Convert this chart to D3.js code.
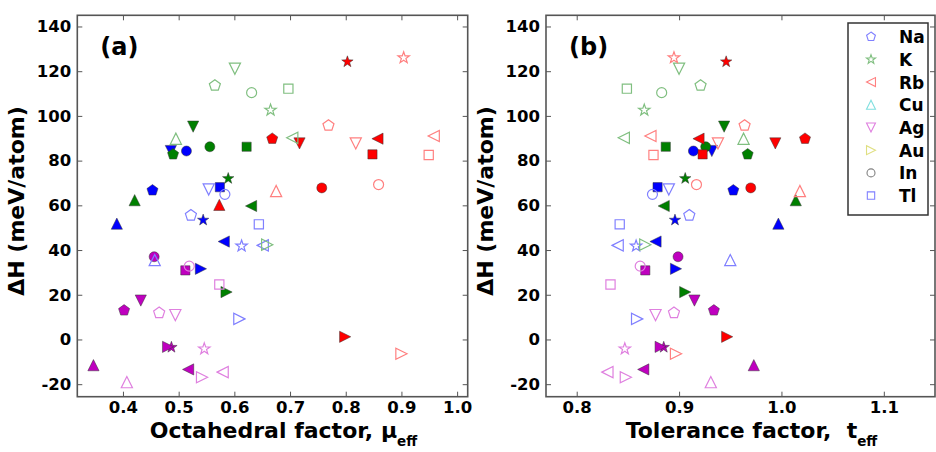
<!DOCTYPE html>
<html>
<head>
<meta charset="utf-8">
<script src="https://cdn.jsdelivr.net/npm/d3@7"></script>
<style>
body { margin: 0; background: #fff; }
text { font-family: "DejaVu Sans", sans-serif; font-weight: bold; fill: #000; }
</style>
</head>
<body>
<svg id="chart" width="936" height="452"></svg>
<script>
// A-site elements, in the order used by every array below
const ELEMENTS = ["Na", "K", "Rb", "Cu", "Ag", "Au", "In", "Tl"];

// formation enthalpy dH (meV/atom), octahedral factor mu, tolerance factor t
const dhBlueFilled = [66.7, 53.4, 43.8, 51.8, 84.3, 31.6, 84.3, 68.1];
const muBlueFilled = [0.453, 0.544, 0.581, 0.389, 0.486, 0.540, 0.514, 0.574];
const tBlueFilled  = [0.953, 0.896, 0.877, 0.997, 0.932, 0.897, 0.914, 0.879];

const dhBlueOpen = [55.5, 41.8, 42.1, 35.5, 67.1, 9.2, 64.9, 51.5];
const muBlueOpen = [0.522, 0.613, 0.651, 0.457, 0.554, 0.609, 0.583, 0.644];
const tBlueOpen  = [0.910, 0.858, 0.840, 0.950, 0.890, 0.859, 0.874, 0.842];

const dhGreenFilled = [82.8, 72.0, 59.7, 62.3, 95.2, 21.2, 86.2, 86.2];
const muGreenFilled = [0.490, 0.589, 0.630, 0.421, 0.526, 0.586, 0.556, 0.622];
const tGreenFilled  = [0.967, 0.906, 0.885, 1.014, 0.944, 0.906, 0.926, 0.887];

const dhGreenOpen = [113.6, 102.6, 90.2, 89.8, 121.1, 42.4, 110.4, 112.2];
const muGreenOpen = [0.565, 0.665, 0.704, 0.495, 0.601, 0.659, 0.631, 0.697];
const tGreenOpen  = [0.921, 0.866, 0.846, 0.963, 0.900, 0.867, 0.883, 0.849];

const dhRedFilled = [89.8, 124.2, 89.8, 60.2, 87.7, 1.2, 67.8, 82.8];
const muRedFilled = [0.668, 0.803, 0.857, 0.573, 0.717, 0.799, 0.757, 0.848];
const tRedFilled  = [1.023, 0.946, 0.919, 1.180, 0.994, 0.947, 0.970, 0.923];

const dhRedOpen = [95.7, 126.0, 91.0, 66.4, 87.7, -6.4, 69.3, 82.5];
const muRedOpen = [0.769, 0.904, 0.958, 0.675, 0.818, 0.900, 0.859, 0.949];
const tRedOpen  = [0.964, 0.895, 0.872, 1.018, 0.938, 0.897, 0.917, 0.875];

const dhMagentaFilled = [13.0, -3.5, -13.4, -11.5, 17.4, -3.3, 37.0, 30.9];
const muMagentaFilled = [0.402, 0.487, 0.517, 0.347, 0.432, 0.481, 0.456, 0.512];
const tMagentaFilled  = [0.934, 0.885, 0.865, 0.973, 0.915, 0.882, 0.899, 0.867];

const dhMagentaOpen = [11.9, -4.2, -14.6, -19.1, 10.9, -16.9, 32.8, 24.6];
const muMagentaOpen = [0.465, 0.546, 0.579, 0.407, 0.494, 0.542, 0.519, 0.573];
const tMagentaOpen  = [0.895, 0.847, 0.830, 0.931, 0.877, 0.848, 0.862, 0.833];

const Y_TICKS = [-20, 0, 20, 40, 60, 80, 100, 120, 140];
const MU_TICKS = [0.4, 0.5, 0.6, 0.7, 0.8, 0.9, 1.0];
const T_TICKS = [0.8, 0.9, 1.0, 1.1];

// marker shape for each element, legend colours follow matplotlib's bgrcmykb cycle
const SHAPES = ["pentagon", "star", "triLeft", "triUp", "triDown", "triRight", "circle", "square"];
const LEGEND_COLORS = ["#8080ff", "#80bf80", "#ff8080", "#80dfdf", "#df80df", "#dfdf80", "#808080", "#8080ff"];

const series = [
    {filled: true,  color: "#0000ff", dh: dhBlueFilled,    mu: muBlueFilled,    t: tBlueFilled},
    {filled: true,  color: "#008000", dh: dhGreenFilled,   mu: muGreenFilled,   t: tGreenFilled},
    {filled: true,  color: "#ff0000", dh: dhRedFilled,     mu: muRedFilled,     t: tRedFilled},
    {filled: true,  color: "#bf00bf", dh: dhMagentaFilled, mu: muMagentaFilled, t: tMagentaFilled},
    {filled: false, color: "#8080ff", dh: dhBlueOpen,      mu: muBlueOpen,      t: tBlueOpen},
    {filled: false, color: "#80bf80", dh: dhGreenOpen,     mu: muGreenOpen,     t: tGreenOpen},
    {filled: false, color: "#ff8080", dh: dhRedOpen,       mu: muRedOpen,       t: tRedOpen},
    {filled: false, color: "#df80df", dh: dhMagentaOpen,   mu: muMagentaOpen,   t: tMagentaOpen}
];

// flatten into one row per point
let points = [];
series.forEach(s => {
    ELEMENTS.forEach((el, i) => {
        points.push({el: el, shape: SHAPES[i], filled: s.filled, color: s.color,
                     dh: s.dh[i], mu: s.mu[i], t: s.t[i]});
    });
});

// marker outlines, k scales the size
function markerPath(shape, k) {
    let p = d3.path();
    function poly(pts) {
        pts.forEach((q, i) => i ? p.lineTo(q[0], q[1]) : p.moveTo(q[0], q[1]));
        p.closePath();
    }
    function rot(pts, a) {
        return pts.map(q => [q[0] * Math.cos(a) - q[1] * Math.sin(a), q[0] * Math.sin(a) + q[1] * Math.cos(a)]);
    }
    let h = 5.6 * k;
    let tri = [[0, -h], [-h, h], [h, h]];
    switch (shape) {
        case "circle": p.moveTo(5 * k, 0); p.arc(0, 0, 5 * k, 0, 2 * Math.PI); break;
        case "square": p.rect(-4.6 * k, -4.6 * k, 9.2 * k, 9.2 * k); break;
        case "triUp": poly(tri); break;
        case "triDown": poly(rot(tri, Math.PI)); break;
        case "triLeft": poly(rot(tri, -Math.PI / 2)); break;
        case "triRight": poly(rot(tri, Math.PI / 2)); break;
        case "pentagon":
            poly(d3.range(5).map(i => {
                let a = -Math.PI / 2 + i * 2 * Math.PI / 5;
                return [5.8 * k * Math.cos(a), 5.8 * k * Math.sin(a)];
            }));
            break;
        case "star":
            poly(d3.range(10).map(i => {
                let r = (i % 2 ? 2.4 : 6.0) * k, a = -Math.PI / 2 + i * Math.PI / 5;
                return [r * Math.cos(a), r * Math.sin(a)];
            }));
            break;
    }
    return p.toString();
}

const svg = d3.select("#chart");
const TOP = 15.3, BOTTOM = 396.7;
const FRAME = "#555";

function drawPanel(cfg) {
    let x = d3.scaleLinear().domain(cfg.xDomain).range([cfg.left, cfg.right]);
    let y = d3.scaleLinear().domain([-25.6, 145]).range([BOTTOM, TOP]);
    let g = svg.append("g");

    g.append("clipPath").attr("id", "clip" + cfg.id)
        .append("rect")
        .attr("x", cfg.left).attr("y", TOP)
        .attr("width", cfg.right - cfg.left).attr("height", BOTTOM - TOP);

    // inward ticks on all four sides
    let bottom = g.append("g").attr("transform", "translate(0," + BOTTOM + ")")
        .call(d3.axisBottom(x).tickValues(cfg.xTicks).tickSize(-5).tickPadding(5)
            .tickFormat(d3.format(".1f")));
    let top = g.append("g").attr("transform", "translate(0," + TOP + ")")
        .call(d3.axisTop(x).tickValues(cfg.xTicks).tickSize(-5).tickFormat(""));
    let left = g.append("g").attr("transform", "translate(" + cfg.left + ",0)")
        .call(d3.axisLeft(y).tickValues(Y_TICKS).tickSize(-5).tickPadding(6)
            .tickFormat(d => String(d)));
    let right = g.append("g").attr("transform", "translate(" + cfg.right + ",0)")
        .call(d3.axisRight(y).tickValues(Y_TICKS).tickSize(-5).tickFormat(""));
    [bottom, top, left, right].forEach(a => {
        a.select(".domain").remove();
        a.selectAll("line").attr("stroke", FRAME).attr("stroke-width", 1);
        a.selectAll("text").style("font-size", "16.5px").attr("font-family", null);
    });

    // the points
    g.append("g").attr("clip-path", "url(#clip" + cfg.id + ")")
        .selectAll("path")
        .data(points)
        .enter()
        .append("path")
        .attr("transform", d => "translate(" + x(cfg.xOf(d)) + "," + y(d.dh) + ")")
        .attr("d", d => markerPath(d.shape, 1))
        .style("fill", d => d.filled ? d.color : "none")
        .style("stroke", d => d.filled ? "#333" : d.color)
        .style("stroke-width", d => d.filled ? 0.7 : 1.2)
        .style("stroke-opacity", d => d.filled ? 0.7 : 1);

    g.append("rect")
        .attr("x", cfg.left).attr("y", TOP)
        .attr("width", cfg.right - cfg.left).attr("height", BOTTOM - TOP)
        .style("fill", "none").style("stroke", FRAME).style("stroke-width", 1.6);

    g.append("text")
        .attr("x", cfg.left + 23).attr("y", 55)
        .style("font-size", "24px")
        .text(cfg.tag);

    // axis titles
    g.append("text")
        .attr("transform", "translate(" + (cfg.left - 53) + "," + ((TOP + BOTTOM) / 2 - 5) + ") rotate(-90)")
        .attr("text-anchor", "middle")
        .style("font-size", "22px")
        .text("\u0394H (meV/atom)");

    let xt = g.append("text")
        .attr("x", (cfg.left + cfg.right) / 2 + 11).attr("y", 438)
        .attr("text-anchor", "middle")
        .style("font-size", "22px");
    xt.append("tspan").text(cfg.xTitle);
    xt.append("tspan").attr("dy", 8).style("font-size", "13.5px").text("eff");
}

drawPanel({id: "a", tag: "(a)", left: 77.3, right: 467.7, xDomain: [0.318, 1.019],
           xTicks: MU_TICKS, xOf: d => d.mu, xTitle: "Octahedral factor,\u00a0\u03bc"});
drawPanel({id: "b", tag: "(b)", left: 546, right: 935, xDomain: [0.770, 1.150],
           xTicks: T_TICKS, xOf: d => d.t, xTitle: "Tolerance factor,\u00a0\u00a0t"});

// legend
let legend = svg.append("g");
legend.append("rect")
    .attr("x", 848).attr("y", 23).attr("width", 80).attr("height", 192)
    .style("fill", "#fff").style("stroke", "#333").style("stroke-width", 1.5);
let rows = legend.selectAll("g.row")
    .data(ELEMENTS)
    .enter()
    .append("g")
    .attr("class", "row")
    .attr("transform", (d, i) => "translate(0," + (36.7 + i * 22.7) + ")");
rows.append("path")
    .attr("transform", "translate(871,0)")
    .attr("d", (d, i) => markerPath(SHAPES[i], 0.8))
    .style("fill", "none")
    .style("stroke", (d, i) => LEGEND_COLORS[i])
    .style("stroke-width", 1.1);
rows.append("text")
    .attr("x", 899).attr("y", 6.5)
    .style("font-size", "17px")
    .text(d => d);
</script>
</body>
</html>
